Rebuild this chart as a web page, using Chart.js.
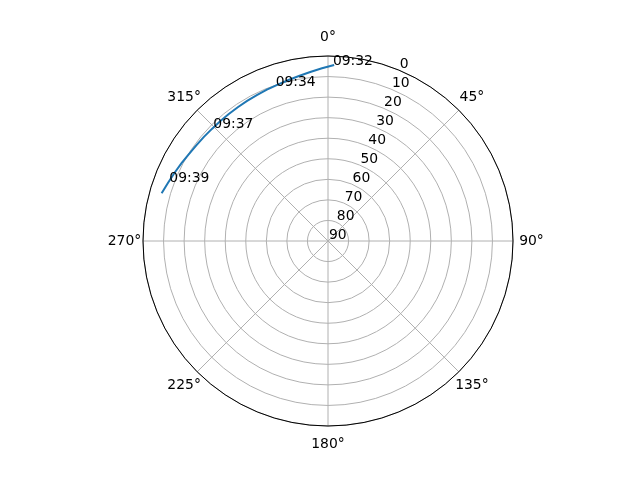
<!DOCTYPE html>
<html>
<head>
<meta charset="utf-8">
<script src="https://cdn.jsdelivr.net/npm/chart.js@4/dist/chart.umd.min.js"></script>
<style>
  html, body { margin: 0; padding: 0; background: #fff; }
</style>
</head>
<body>
<canvas id="myChart" width="640" height="480"></canvas>
<script>
// satellite pass: azimuth (deg, clockwise from north) and elevation (deg)
var azStart = 2, azStep = 4;
var azimuth = [286, 290, 294, 298, 302, 306, 310, 314, 318, 322, 326, 330, 334, 338, 342, 346, 350, 354, 358, 2];
var elevation = [5.8, 7.2, 8.3, 9.3, 10.2, 10.8, 11.2, 11.5, 11.6, 11.6, 11.5, 11.3, 11.0, 10.6, 10.1, 9.4, 8.5, 7.3, 5.9, 4.3];

// time marks along the track
var passTimes = ["09:32", "09:34", "09:37", "09:39"];
var timeAz = [1.6, 341.4, 314.5, 290.3];
var timeEl = [4.3, 10.2, 11.8, 7.7];

var angleTicks = [0, 45, 90, 135, 180, 225, 270, 315];
var elevTicks = [0, 10, 20, 30, 40, 50, 60, 70, 80, 90];

var nSlots = 360 / azStep;
var azLabels = [];
var track = [];
for (var i = 0; i < nSlots; i++) { azLabels.push(azStart + i * azStep); track.push(null); }
azimuth.forEach(function (a, k) {
    var idx = Math.round(((a - azStart) / azStep + nSlots) % nSlots);
    track[idx] = elevation[k];
});

var FONT = "13.9px 'DejaVu Sans'";

var polarDecor = {
    id: "polarDecor",
    beforeDatasetsDraw: function (chart) {
        var s = chart.scales.r, ctx = chart.ctx;
        ctx.save();
        ctx.strokeStyle = "#b0b0b0";
        ctx.lineWidth = 1;
        angleTicks.forEach(function (a) {
            var p = s.getPointPosition((a - azStart) / azStep, s.drawingArea);
            ctx.beginPath();
            ctx.moveTo(s.xCenter, s.yCenter);
            ctx.lineTo(p.x, p.y);
            ctx.stroke();
        });
        ctx.restore();
    },
    afterDatasetsDraw: function (chart) {
        var s = chart.scales.r, ctx = chart.ctx;
        ctx.save();
        ctx.strokeStyle = "#000";
        ctx.lineWidth = 1;
        ctx.beginPath();
        ctx.arc(s.xCenter, s.yCenter, s.drawingArea, 0, Math.PI * 2);
        ctx.stroke();

        ctx.fillStyle = "#000";
        ctx.font = FONT;
        // angle labels outside the circle
        ctx.textAlign = "center";
        ctx.textBaseline = "middle";
        angleTicks.forEach(function (a) {
            var p = s.getPointPosition((a - azStart) / azStep, s.drawingArea + 18.5);
            ctx.fillText(a + "\u00b0", p.x, p.y);
        });
        // elevation labels along 22.5 deg
        ctx.textAlign = "left";
        ctx.textBaseline = "alphabetic";
        elevTicks.forEach(function (v) {
            var p = s.getPointPositionForValue((22.5 - azStart) / azStep, v);
            ctx.fillText(String(v), p.x + 1, p.y - 2);
        });
        // time annotations
        passTimes.forEach(function (t, k) {
            var p = s.getPointPositionForValue((timeAz[k] - azStart) / azStep, timeEl[k]);
            ctx.fillText(t, p.x, p.y);
        });
        ctx.restore();
    }
};

new Chart("myChart", {
    type: "radar",
    data: {
        labels: azLabels,
        datasets: [{
            data: track,
            borderColor: "#1f77b4",
            borderWidth: 2,
            pointRadius: 0,
            fill: false,
            spanGaps: false
        }]
    },
    options: {
        responsive: false,
        animation: false,
        layout: { padding: { left: 143, right: 127, top: 56, bottom: 54 } },
        plugins: { legend: { display: false }, tooltip: { enabled: false } },
        scales: {
            r: {
                min: 0,
                max: 90,
                reverse: true,
                startAngle: azStart,
                ticks: { display: false, stepSize: 10 },
                pointLabels: { display: false },
                angleLines: { display: false },
                grid: {
                    circular: true,
                    lineWidth: 1,
                    color: function (c) { return c.tick && c.tick.value === 90 ? "rgba(0,0,0,0)" : "#b0b0b0"; }
                }
            }
        }
    },
    plugins: [polarDecor]
});
</script>
</body>
</html>
